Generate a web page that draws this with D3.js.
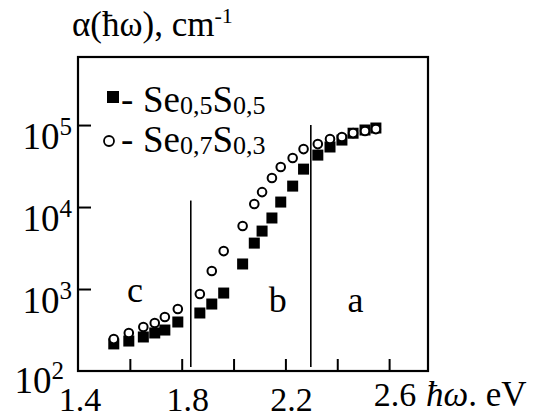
<!DOCTYPE html>
<html><head><meta charset="utf-8">
<script src="https://cdn.jsdelivr.net/npm/d3@7"></script>
<style>body{margin:0;background:#fff}svg{display:block}</style>
</head><body><svg id="c" width="557" height="420" font-family="'Liberation Serif', 'DejaVu Serif', serif"></svg>
<script>
// photon energy (eV)
const energy = [1.538,1.596,1.652,1.696,1.735,1.785,1.870,1.916,1.962,2.035,2.080,2.110,2.148,2.182,2.228,2.270,2.325,2.372,2.418,2.461,2.507,2.549];
// alpha, cm^-1, Se0.5S0.5 (filled squares)
const alphaSe05 = [214,232,260,291,316,396,510,656,893,2020,3630,5090,7350,11500,18000,29000,43000,54000,65600,79500,87000,92000];
// alpha, cm^-1, Se0.7S0.3 (open circles)
const alphaSe07 = [245,291,344,385,456,570,868,1660,2900,5860,10900,15200,22600,30800,39600,50900,58600,67500,71500,79800,84500,89300];
const xTicks = [1.6,1.8,2.0,2.2,2.4,2.6];
const xTickLabels = [1.4,1.8,2.2,2.6];
const yTicks = [1e3,1e4,1e5];
const yTickExp = [2,3,4,5];
const boundaries = [1.835,2.298];
const boundaryTops = [1.2e4,1e5];
const regionLabels = [{t:"c",x:1.62,y:700},{t:"b",x:2.17,y:520},{t:"a",x:2.47,y:520}];

const svg = d3.select("#c");
const L=78,R=428,T=57,B=371;
const x = d3.scaleLinear().domain([1.4,2.75]).range([L,R]);
const y = d3.scaleLog().domain([100,Math.pow(10,5.83)]).range([B,T]);

// ticks
const gx = svg.append("g").attr("transform",`translate(0,${B})`)
  .call(d3.axisBottom(x).tickValues(xTicks).tickSize(-12).tickFormat(""));
const gy = svg.append("g").attr("transform",`translate(${L},0)`)
  .call(d3.axisRight(y).tickValues(yTicks).tickSize(13).tickFormat(""));
[gx,gy].forEach(g=>{g.select(".domain").remove();g.selectAll("line").attr("stroke","#000").attr("stroke-width",2);});

// frame
svg.append("rect").attr("x",L).attr("y",T).attr("width",R-L).attr("height",B-T)
  .attr("fill","none").attr("stroke","#000").attr("stroke-width",2.2);

// boundary lines
svg.selectAll("line.bd").data(boundaries).join("line")
  .attr("x1",d=>x(d)).attr("x2",d=>x(d))
  .attr("y1",(d,i)=>y(boundaryTops[i])).attr("y2",B-4)
  .attr("stroke","#000").attr("stroke-width",1.6);

// region labels
svg.selectAll("text.rl").data(regionLabels).join("text")
  .attr("x",d=>x(d.x)).attr("y",d=>y(d.y)).attr("text-anchor","middle")
  .attr("font-size",36).text(d=>d.t);

// squares
const s=11;
svg.selectAll("rect.sq").data(energy).join("rect")
  .attr("x",(d)=>x(d)-s/2).attr("y",(d,i)=>y(alphaSe05[i])-s/2)
  .attr("width",s).attr("height",s).attr("fill","#000");
// circles
svg.selectAll("circle.ci").data(energy).join("circle")
  .attr("cx",d=>x(d)).attr("cy",(d,i)=>y(alphaSe07[i]))
  .attr("r",4.3).attr("fill","#fff").attr("stroke","#000").attr("stroke-width",2);

// x tick labels
svg.selectAll("text.xl").data(xTickLabels).join("text")
  .attr("x",(d,i)=>x(d)+(i===0?2:6)).attr("y",(d,i)=>i===3?406:411)
  .attr("text-anchor","middle").attr("font-size",34).text(d=>d.toFixed(1));
const xt = svg.append("text").attr("x",426).attr("y",406).attr("font-size",35);
xt.append("tspan").attr("font-style","italic").text("ħω");
xt.append("tspan").text(". eV");

// y tick labels
yTickExp.forEach(e=>{
  const py = y(Math.pow(10,e));
  const t = svg.append("text").attr("x",e===2?64:72).attr("y",(e===2?py+22:py+24)).attr("text-anchor","end").attr("font-size",37);
  t.append("tspan").text("10");
  t.append("tspan").attr("font-size",25).attr("dy",-14).text(e);
});

// title
const tt = svg.append("text").attr("x",72).attr("y",36).attr("font-size",35);
tt.append("tspan").text("α(ħω), cm");
tt.append("tspan").attr("font-size",22).attr("dy",-13).text("-1");

// legend
const lg = [{m:"sq",a:"0,5",b:"0,5",y:112},{m:"ci",a:"0,7",b:"0,3",y:152}];
lg.forEach(d=>{
  if(d.m==="sq") svg.append("rect").attr("x",107).attr("y",d.y-21).attr("width",12).attr("height",12).attr("fill","#000");
  else svg.append("circle").attr("cx",109).attr("cy",d.y-11).attr("r",5).attr("fill","#fff").attr("stroke","#000").attr("stroke-width",1.8);
  const t = svg.append("text").attr("x",121).attr("y",d.y).attr("font-size",37);
  t.append("tspan").text("- ");
  t.append("tspan").attr("x",143).text("Se");
  t.append("tspan").attr("font-size",26).attr("dy",2).text(d.a);
  t.append("tspan").attr("dy",-2).text("S");
  t.append("tspan").attr("font-size",26).attr("dy",2).text(d.b);
});
</script></body></html>
